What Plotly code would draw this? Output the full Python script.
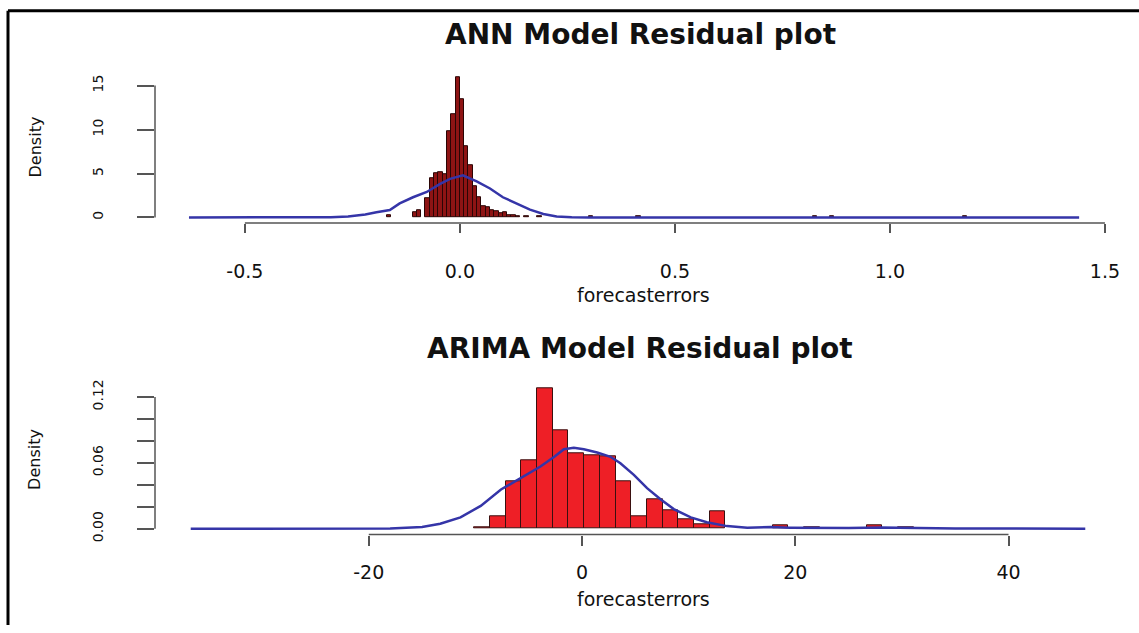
import plotly.graph_objects as go

# ---------------- data ----------------
# ANN residual histogram (density), bin left edges and heights
ann_bin_left = [-0.17, -0.11, -0.10, -0.08, -0.07, -0.06, -0.05, -0.04, -0.03, -0.02,
                -0.01, 0.00, 0.01, 0.02, 0.03, 0.04, 0.05, 0.06, 0.07, 0.08,
                0.09, 0.10, 0.11, 0.12, 0.13, 0.15, 0.18, 0.30, 0.41, 0.82, 0.86, 1.17]
ann_density = [0.25, 0.6, 0.8, 2.2, 4.5, 5.0, 5.2, 4.9, 9.8, 11.7,
               16.0, 13.5, 8.1, 6.0, 3.6, 2.3, 1.3, 1.2, 0.8, 0.7,
               0.5, 0.6, 0.3, 0.3, 0.2, 0.15, 0.2, 0.15, 0.2, 0.15, 0.2, 0.2]
ann_bin_width = 0.01

# ANN kernel density curve
ann_kde_x = [-0.63, -0.40, -0.30, -0.26, -0.22, -0.194, -0.163, -0.14, -0.109, -0.077,
             -0.047, -0.023, 0.007, 0.039, 0.07, 0.10, 0.13, 0.163, 0.194, 0.225,
             0.26, 0.30, 0.50, 1.00, 1.44]
ann_kde_y = [0.0, 0.0, 0.03, 0.1, 0.35, 0.6, 0.85, 1.6, 2.3, 2.9,
             3.8, 4.4, 4.8, 4.1, 3.3, 2.3, 1.6, 0.9, 0.4, 0.12,
             0.03, 0.0, 0.0, 0.0, 0.0]

# ARIMA residual histogram (density)
arima_bin_left = [-10.11, -8.64, -7.17, -5.69, -4.22, -2.75, -1.27, 0.20, 1.67, 3.15,
                  4.62, 6.09, 7.56, 9.04, 10.51, 11.98, 17.87, 20.82, 26.71, 29.65]
arima_density = [0.001, 0.011, 0.043, 0.062, 0.128, 0.090, 0.069, 0.067, 0.066, 0.043,
                 0.011, 0.027, 0.017, 0.009, 0.004, 0.016, 0.003, 0.0015, 0.003, 0.0015]
arima_bin_width = 1.47

# ARIMA kernel density curve
arima_kde_x = [-36.7, -25.0, -18.0, -15.0, -13.3, -11.4, -9.5, -7.6, -5.8, -3.9,
               -2.6, -1.7, -0.77, 0.17, 1.42, 2.67, 3.6, 4.86, 6.1, 7.36,
               8.6, 10.2, 11.7, 13.6, 15.5, 17.7, 19.5, 22.0, 25.0, 28.0,
               31.0, 35.0, 40.0, 47.2]
arima_kde_y = [0.0, 0.0, 0.0003, 0.0015, 0.0045, 0.0104, 0.0208, 0.0357, 0.046, 0.0566,
               0.0655, 0.0724, 0.0736, 0.0724, 0.0694, 0.0655, 0.0596, 0.049, 0.037, 0.0268,
               0.0179, 0.0104, 0.006, 0.0024, 0.001, 0.0015, 0.001, 0.0008, 0.0006, 0.0012,
               0.0006, 0.0003, 0.0002, 0.0]

ann_xticks = [-0.5, 0.0, 0.5, 1.0, 1.5]
ann_xticktext = ["-0.5", "0.0", "0.5", "1.0", "1.5"]
ann_yticks = [0, 5, 10, 15]
arima_xticks = [-20, 0, 20, 40]
arima_yticks = [0.0, 0.02, 0.04, 0.06, 0.08, 0.10, 0.12]
arima_yticktext = ["0.00", "", "", "0.06", "", "", "0.12"]

# ---------------- figure ----------------
W, H = 1139, 633
FONT = "DejaVu Sans, Liberation Sans, Arial, sans-serif"
KDE_COLOR = "#3535A8"
AXIS_COLOR = "#555555"

fig = go.Figure()

fig.add_trace(go.Bar(
    x=[l + ann_bin_width / 2 for l in ann_bin_left], y=ann_density,
    width=ann_bin_width, marker=dict(color="#8E1414", line=dict(color="#2a0505", width=1)),
    xaxis="x", yaxis="y", showlegend=False))
fig.add_trace(go.Scatter(
    x=ann_kde_x, y=ann_kde_y, mode="lines", line=dict(color=KDE_COLOR, width=2.5),
    xaxis="x", yaxis="y", showlegend=False))

fig.add_trace(go.Bar(
    x=[l + arima_bin_width / 2 for l in arima_bin_left], y=arima_density,
    width=arima_bin_width, marker=dict(color="#EE1F26", line=dict(color="#3a1010", width=1)),
    xaxis="x2", yaxis="y2", showlegend=False))
fig.add_trace(go.Scatter(
    x=arima_kde_x, y=arima_kde_y, mode="lines", line=dict(color=KDE_COLOR, width=2.5),
    xaxis="x2", yaxis="y2", showlegend=False))

x1_dom = [155 / W, 1126 / W]
x2_dom = [155 / W, 1121 / W]
y1_dom = [1 - 224 / H, 1 - 69.4 / H]
y2_dom = [1 - 541 / H, 1 - 386 / H]

tickfont_h = dict(family=FONT, size=19, color="#111111")
tickfont_v = dict(family=FONT, size=14, color="#111111")

common_x = dict(showgrid=False, zeroline=False, showline=False, ticks="outside",
                tickcolor=AXIS_COLOR, tickwidth=1.5, tickfont=tickfont_h, fixedrange=True)
common_y = dict(showgrid=False, zeroline=False, showline=False, ticks="outside",
                tickcolor=AXIS_COLOR, tickwidth=1.5, tickfont=tickfont_v, tickangle=-90,
                ticklen=17, fixedrange=True)

fig.update_layout(
    width=W, height=H,
    margin=dict(l=0, r=0, t=0, b=0),
    paper_bgcolor="white", plot_bgcolor="white",
    bargap=0, showlegend=False,
    xaxis=dict(domain=x1_dom, range=[-0.709, 1.549], anchor="y",
               tickmode="array", tickvals=ann_xticks, ticktext=ann_xticktext,
               ticklen=9, ticklabelstandoff=22, **common_x),
    yaxis=dict(domain=y1_dom, range=[-0.64, 16.64], anchor="x",
               tickmode="array", tickvals=ann_yticks, ticktext=[str(v) for v in ann_yticks],
               ticklabelstandoff=28, **common_y),
    xaxis2=dict(domain=x2_dom, range=[-40.05, 50.55], anchor="y2",
                tickmode="array", tickvals=arima_xticks, ticktext=[str(v) for v in arima_xticks],
                ticklen=10, ticklabelstandoff=11, **common_x),
    yaxis2=dict(domain=y2_dom, range=[-0.00532, 0.1333], anchor="x2",
                tickmode="array", tickvals=arima_yticks, ticktext=arima_yticktext,
                ticklabelstandoff=28, **common_y),
)

shapes = []
# R-style axis lines spanning only from first to last tick
shapes.append(dict(type="line", xref="x", yref="paper", x0=ann_xticks[0], x1=ann_xticks[-1],
                   y0=y1_dom[0], y1=y1_dom[0], line=dict(color=AXIS_COLOR, width=1.5)))
shapes.append(dict(type="line", xref="paper", yref="y", x0=x1_dom[0], x1=x1_dom[0],
                   y0=ann_yticks[0], y1=ann_yticks[-1], line=dict(color=AXIS_COLOR, width=1.5)))
shapes.append(dict(type="line", xref="x2", yref="paper", x0=arima_xticks[0], x1=arima_xticks[-1],
                   y0=y2_dom[0], y1=y2_dom[0], line=dict(color=AXIS_COLOR, width=1.5)))
shapes.append(dict(type="line", xref="paper", yref="y2", x0=x2_dom[0], x1=x2_dom[0],
                   y0=arima_yticks[0], y1=arima_yticks[-1], line=dict(color=AXIS_COLOR, width=1.5)))
# frame border (left and top)
shapes.append(dict(type="line", xref="paper", yref="paper", x0=8 / W, x1=8 / W,
                   y0=0, y1=1 - 8 / H, line=dict(color="black", width=3)))
shapes.append(dict(type="line", xref="paper", yref="paper", x0=8 / W, x1=1,
                   y0=1 - 8 / H, y1=1 - 8 / H, line=dict(color="black", width=3)))
fig.update_layout(shapes=shapes)

annotations = [
    dict(text="<b>ANN Model Residual plot</b>", x=640 / W, y=1 - 32 / H,
         font=dict(family=FONT, size=28, color="#111111")),
    dict(text="<b>ARIMA Model Residual plot</b>", x=640 / W, y=1 - 352 / H,
         font=dict(family=FONT, size=28, color="#111111")),
    dict(text="forecasterrors", x=643 / W, y=1 - 297 / H,
         font=dict(family=FONT, size=19, color="#111111")),
    dict(text="forecasterrors", x=643 / W, y=1 - 607 / H,
         font=dict(family=FONT, size=19, color="#111111")),
    dict(text="Density", x=35 / W, y=1 - 147 / H, textangle=-90,
         font=dict(family=FONT, size=16, color="#111111")),
    dict(text="Density", x=35 / W, y=1 - 465 / H, textangle=-90,
         font=dict(family=FONT, size=16, color="#111111")),
]
for a in annotations:
    a.update(xref="paper", yref="paper", showarrow=False, xanchor="center", yanchor="middle")
fig.update_layout(annotations=annotations)

fig.write_html("out.html")
